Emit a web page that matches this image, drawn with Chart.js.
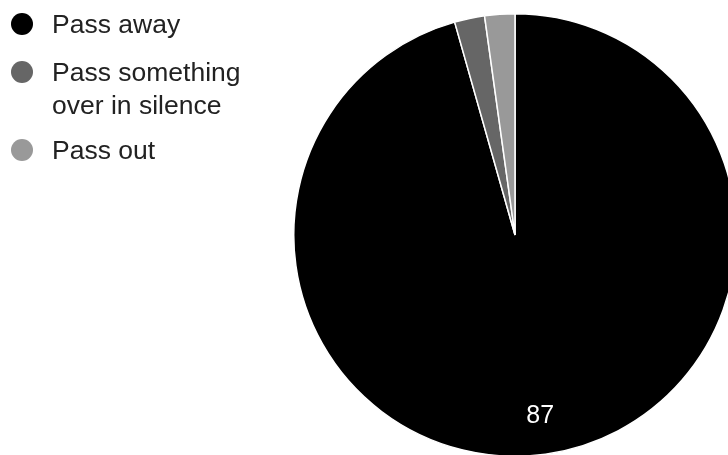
<!DOCTYPE html>
<html>
<head>
<meta charset="utf-8">
<script src="https://cdn.jsdelivr.net/npm/chart.js@4/dist/chart.umd.min.js"></script>
<style>
  html, body { margin: 0; padding: 0; background: #fff; overflow: hidden; width: 728px; height: 455px; }
  canvas { display: block; }
</style>
</head>
<body>
<canvas id="grafico-pizza" width="740" height="460"></canvas>
<script>
const categorias = ['Pass away', 'Pass something over in silence', 'Pass out'];
const valores = [87, 2, 2];
const cores = ['#000000', '#666666', '#999999'];

const fonte = 'Arial, "Liberation Sans", sans-serif';

// legenda desenhada à mão, com quebra de linha nos nomes longos
const legendaLateral = {
    id: 'legendaLateral',
    afterDraw(chart) {
        const ctx = chart.ctx;
        const larguraMax = 200;
        let y = 24;
        ctx.save();
        ctx.font = '26.5px ' + fonte;
        ctx.textBaseline = 'alphabetic';
        categorias.forEach((nome, i) => {
            const linhas = [];
            let atual = '';
            nome.split(' ').forEach(palavra => {
                const teste = atual ? atual + ' ' + palavra : palavra;
                if (ctx.measureText(teste).width > larguraMax && atual) {
                    linhas.push(atual);
                    atual = palavra;
                } else {
                    atual = teste;
                }
            });
            linhas.push(atual);

            ctx.fillStyle = cores[i];
            ctx.beginPath();
            ctx.arc(22, y, 11, 0, Math.PI * 2);
            ctx.fill();

            ctx.fillStyle = '#222222';
            linhas.forEach((linha, j) => {
                ctx.fillText(linha, 52, y + 9 + j * 33);
            });
            y += 48 + (linhas.length - 1) * 30;
        });
        ctx.restore();
    }
};

// valor escrito dentro das fatias grandes
const rotulosFatias = {
    id: 'rotulosFatias',
    afterDatasetsDraw(chart) {
        const ctx = chart.ctx;
        const meta = chart.getDatasetMeta(0);
        ctx.save();
        ctx.font = '25px ' + fonte;
        ctx.fillStyle = '#ffffff';
        ctx.textAlign = 'center';
        ctx.textBaseline = 'middle';
        meta.data.forEach((arco, i) => {
            const p = arco.getProps(['x', 'y', 'startAngle', 'endAngle', 'outerRadius']);
            if (p.endAngle - p.startAngle < 0.5) return;
            const meio = (p.startAngle + p.endAngle) / 2;
            const r = p.outerRadius * 0.825;
            ctx.fillText(String(valores[i]), p.x + Math.cos(meio) * r, p.y + Math.sin(meio) * r);
        });
        ctx.restore();
    }
};

const ctxPizza = document.getElementById('grafico-pizza').getContext('2d');

const graficoPizza = new Chart(ctxPizza, {
    type: 'pie',
    data: {
        labels: categorias,
        datasets: [{
            data: valores,
            backgroundColor: cores,
            borderColor: '#ffffff',
            borderWidth: 1.5
        }]
    },
    options: {
        responsive: false,
        animation: false,
        devicePixelRatio: 1,
        layout: {
            padding: { left: 293, top: 13, right: 3, bottom: 3 }
        },
        plugins: {
            legend: { display: false },
            tooltip: { enabled: false }
        }
    },
    plugins: [legendaLateral, rotulosFatias]
});
</script>
</body>
</html>
